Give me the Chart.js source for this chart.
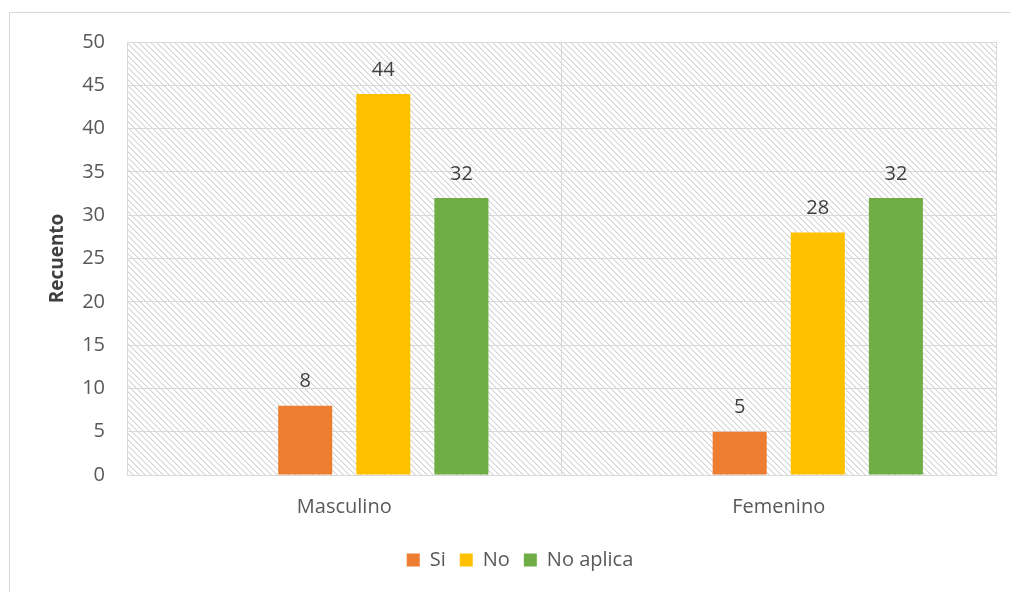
<!DOCTYPE html>
<html>
<head>
<meta charset="utf-8">
<script src="https://cdn.jsdelivr.net/npm/chart.js@4.4.1/dist/chart.umd.min.js"></script>
<style>
  html, body { margin: 0; padding: 0; background: #fff; }
  #wrap { width: 1010px; height: 592px; position: relative; }
</style>
</head>
<body>
<div id="wrap"><canvas id="chart"></canvas></div>
<script>
// Datos del gráfico
const categorias = ['Masculino', 'Femenino'];
const serieVacia = [null, null];   // hueco a la izquierda de cada grupo
const serieSi = [8, 5];
const serieNo = [44, 28];
const serieNoAplica = [32, 32];
const ticksY = [0, 5, 10, 15, 20, 25, 30, 35, 40, 45, 50];

const FUENTE = "'Open Sans', sans-serif";
const GRIS_LINEA = '#d9d9d9';

// Trama diagonal del fondo del área de trazado
function crearTrama(ctx) {
    const t = document.createElement('canvas');
    t.width = 6; t.height = 6;
    const c = t.getContext('2d');
    c.fillStyle = '#ffffff';
    c.fillRect(0, 0, 6, 6);
    for (let i = 0; i < 6; i++) {
        c.fillStyle = '#d4d4d4';
        c.fillRect(i, i, 1, 1);
        c.fillStyle = '#ececec';
        c.fillRect((i + 1) % 6, i, 1, 1);
    }
    return ctx.createPattern(t, 'repeat');
}

const fondoPlugin = {
    id: 'fondo',
    beforeDraw(chart) {
        const { ctx, chartArea: a } = chart;
        ctx.save();
        ctx.fillStyle = '#fff';
        ctx.fillRect(0, 0, chart.width, chart.height);
        // marco exterior
        ctx.strokeStyle = GRIS_LINEA;
        ctx.lineWidth = 1;
        ctx.strokeRect(9.5, 12.5, chart.width + 20, chart.height + 20);
        ctx.fillStyle = crearTrama(ctx);
        ctx.fillRect(a.left, a.top, a.right - a.left, a.bottom - a.top);
        ctx.restore();
    }
};

// Etiquetas de valor encima de cada barra
const etiquetasPlugin = {
    id: 'etiquetas',
    afterDatasetsDraw(chart) {
        const ctx = chart.ctx;
        ctx.save();
        ctx.font = '20px ' + FUENTE;
        ctx.fillStyle = '#404040';
        ctx.textAlign = 'center';
        ctx.textBaseline = 'bottom';
        chart.data.datasets.forEach((ds, i) => {
            const meta = chart.getDatasetMeta(i);
            meta.data.forEach((bar, j) => {
                const v = ds.data[j];
                if (v == null) return;
                ctx.fillText(String(v), bar.x, bar.y - 14);
            });
        });
        ctx.restore();
    }
};

new Chart(document.getElementById('chart'), {
    type: 'bar',
    data: {
        labels: categorias,
        datasets: [
            { label: '', data: serieVacia, backgroundColor: 'rgba(0,0,0,0)' },
            { label: 'Si', data: serieSi, backgroundColor: '#ED7D31' },
            { label: 'No', data: serieNo, backgroundColor: '#FFC000' },
            { label: 'No aplica', data: serieNoAplica, backgroundColor: '#70AD47' }
        ]
    },
    options: {
        responsive: true,
        maintainAspectRatio: false,
        animation: false,
        categoryPercentage: 0.719,
        barPercentage: 0.692,
        layout: { padding: { left: 44, right: 14, top: 42, bottom: 12 } },
        plugins: {
            tooltip: { enabled: false },
            legend: {
                position: 'bottom',
                labels: {
                    filter: item => item.text !== '',
                    boxWidth: 13,
                    boxHeight: 13,
                    padding: 14,
                    color: '#595959',
                    font: { family: FUENTE, size: 20 }
                }
            }
        },
        scales: {
            x: {
                grid: { color: GRIS_LINEA, drawTicks: false, offset: true },
                border: { color: GRIS_LINEA },
                ticks: { color: '#595959', padding: 20, font: { family: FUENTE, size: 20 } },
                afterFit: s => { s.height = 61; }
            },
            y: {
                min: 0,
                max: 50,
                afterBuildTicks: s => { s.ticks = ticksY.map(v => ({ value: v })); },
                grid: { color: GRIS_LINEA, drawTicks: false },
                border: { color: GRIS_LINEA },
                ticks: { color: '#595959', padding: 22, font: { family: FUENTE, size: 20 } },
                title: {
                    display: true,
                    text: 'Recuento',
                    color: '#404040',
                    font: { family: FUENTE, size: 19, weight: 'bold' },
                    padding: { top: 2, bottom: 0 }
                },
                afterFit: s => { s.width = 83; }
            }
        }
    },
    plugins: [fondoPlugin, etiquetasPlugin]
});
</script>
</body>
</html>
